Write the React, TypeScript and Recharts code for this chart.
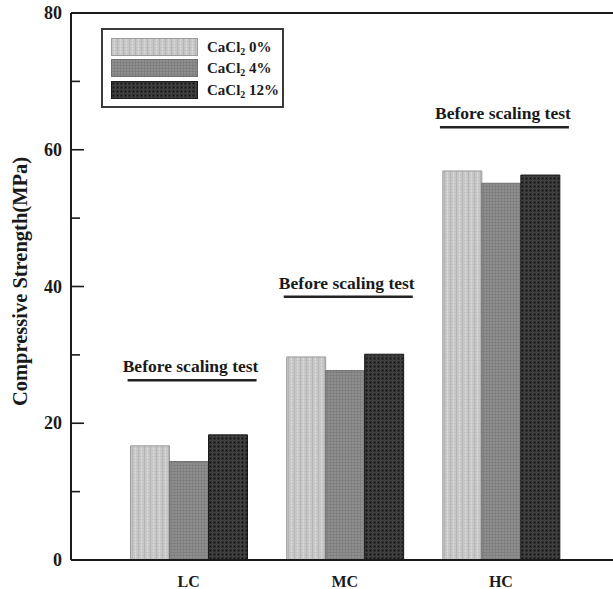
import React from 'react';
import { ComposedChart, Bar, XAxis, YAxis, Scatter, ReferenceLine, Legend } from 'recharts';

// Compressive strength (MPa) per concrete grade and CaCl2 dosage
const categories = ['LC', 'MC', 'HC'];
const cacl0 = [16.7, 29.7, 56.9];
const cacl4 = [14.4, 27.7, 55.1];
const cacl12 = [18.3, 30.1, 56.3];
// height (MPa) of the underlined note above each group
const noteLevels = [26.3, 38.5, 63.3];
const noteText = 'Before scaling test';
const seriesLabels = ['0%', '4%', '12%'];
const yTicks = [0, 10, 20, 30, 40, 50, 60, 70, 80];

const data = categories.map((cat, i) => ({
  cat,
  s0: cacl0[i],
  s4: cacl4[i],
  s12: cacl12[i],
  note: noteLevels[i],
}));

const FONT = '"Liberation Serif", "Times New Roman", serif';
const INK = '#1a1a1a';

const seriesStyle = [
  { key: 's0', fill: 'url(#fill0)', stroke: '#9c9c9c' },
  { key: 's4', fill: 'url(#fill4)', stroke: '#707070' },
  { key: 's12', fill: 'url(#fill12)', stroke: '#1a1a1a' },
];

const PatternDefs = () => (
  <svg width={0} height={0} style={{ position: 'absolute' }}>
    <defs>
      <pattern id="fill0" width="6" height="3" patternUnits="userSpaceOnUse">
        <rect width="6" height="3" fill="#c9c9c9" />
        <rect x="0" width="1" height="3" fill="#b3b3b3" />
        <rect x="3" width="1" height="3" fill="#d9d9d9" />
        <rect y="0" width="6" height="1" fill="#bdbdbd" opacity="0.5" />
      </pattern>
      <pattern id="fill4" width="3" height="3" patternUnits="userSpaceOnUse">
        <rect width="3" height="3" fill="#8f8f8f" />
        <rect width="3" height="1" fill="#7f7f7f" />
        <rect width="1" height="3" fill="#808080" />
      </pattern>
      <pattern id="fill12" width="4" height="4" patternUnits="userSpaceOnUse">
        <rect width="4" height="4" fill="#303030" />
        <rect width="4" height="1" fill="#3e3e3e" />
        <rect width="1" height="4" fill="#424242" />
        <rect x="2" y="2" width="1" height="1" fill="#0a0a0a" />
      </pattern>
    </defs>
  </svg>
);

// inward ticks: long at labelled values, short in between
const YTick = (props: any) => {
  const { x, y, payload } = props;
  const v = payload.value;
  const major = v % 20 === 0;
  return (
    <g>
      <line x1={x} x2={x + (major ? 13 : 9)} y1={y} y2={y} stroke={INK} strokeWidth={1.6} />
      {major && (
        <text x={x - 9} y={y} dy={6} textAnchor="end" fontFamily={FONT} fontWeight="bold" fontSize={18} fill={INK}>
          {v}
        </text>
      )}
    </g>
  );
};

const NoteMark = (props: any) => {
  const { cx, cy } = props;
  if (cx == null || cy == null) return null;
  return (
    <g>
      <text x={cx + 2} y={cy - 8} textAnchor="middle" fontFamily={FONT} fontWeight="bold" fontSize={17.5} fill={INK}>
        {noteText}
      </text>
      <line x1={cx - 61} x2={cx + 68} y1={cy} y2={cy} stroke="#222" strokeWidth={2.5} />
    </g>
  );
};

const YLabel = (props: any) => {
  const { viewBox } = props;
  const cx = viewBox.x + 20;
  const cy = viewBox.y + viewBox.height / 2 - 5;
  return (
    <text
      x={cx}
      y={cy}
      transform={`rotate(-90, ${cx}, ${cy})`}
      textAnchor="middle"
      dominantBaseline="central"
      fontFamily={FONT}
      fontWeight="bold"
      fontSize={20.5}
      fill={INK}
    >
      Compressive Strength(MPa)
    </text>
  );
};

const LegendBox = () => (
  <div
    style={{
      position: 'relative',
      width: 183,
      height: 80,
      boxSizing: 'border-box',
      border: '2px solid #3a3a3a',
      background: '#fff',
      fontFamily: FONT,
      fontWeight: 'bold',
      color: INK,
    }}
  >
    {seriesLabels.map((lab, i) => (
      <div key={lab} style={{ position: 'absolute', left: 8, top: 8 + i * 21.4, height: 18, width: 170 }}>
        <svg width={87} height={18} style={{ position: 'absolute', left: 0, top: 0 }}>
          <rect x={0.5} y={0.5} width={86} height={17} fill={seriesStyle[i].fill} stroke={seriesStyle[i].stroke} strokeWidth={1} />
        </svg>
        <span style={{ position: 'absolute', left: 96, top: 0, fontSize: 15, lineHeight: '18px', whiteSpace: 'nowrap' }}>
          CaCl<span style={{ fontSize: 10, position: 'relative', top: 3 }}>2</span> {lab}
        </span>
      </div>
    ))}
  </div>
);

export default function App() {
  return (
    <div style={{ position: 'absolute', left: 0, top: 0, width: 613, height: 589, background: '#fff' }}>
      <PatternDefs />
      <ComposedChart
        width={613}
        height={589}
        data={data}
        margin={{ top: 13, right: 0, bottom: 0, left: 0 }}
        barGap={0}
        barSize={39}
      >
        <XAxis
          dataKey="cat"
          height={29}
          tickLine={false}
          tickMargin={10}
          padding={{ left: 39.5, right: 34 }}
          axisLine={{ stroke: INK, strokeWidth: 2 }}
          tick={{ fontFamily: FONT, fontWeight: 'bold', fontSize: 16, fill: INK }}
        />
        <YAxis
          width={71}
          domain={[0, 80]}
          ticks={yTicks}
          interval={0}
          tickSize={0}
          tickMargin={0}
          tickLine={false}
          axisLine={{ stroke: INK, strokeWidth: 2 }}
          tick={<YTick />}
          label={<YLabel />}
        />
        <ReferenceLine y={80} stroke={INK} strokeWidth={2} ifOverflow="extendDomain" />
        {seriesStyle.map((s) => (
          <Bar
            key={s.key}
            dataKey={s.key}
            fill={s.fill}
            stroke={s.stroke}
            strokeWidth={1}
            isAnimationActive={false}
          />
        ))}
        <Scatter dataKey="note" shape={<NoteMark />} isAnimationActive={false} legendType="none" />
        <Legend
          layout="horizontal"
          verticalAlign="middle"
          align="center"
          content={() => <LegendBox />}
          wrapperStyle={{ position: 'absolute', left: 101, top: 28, width: 183, height: 80 }}
        />
      </ComposedChart>
    </div>
  );
}
